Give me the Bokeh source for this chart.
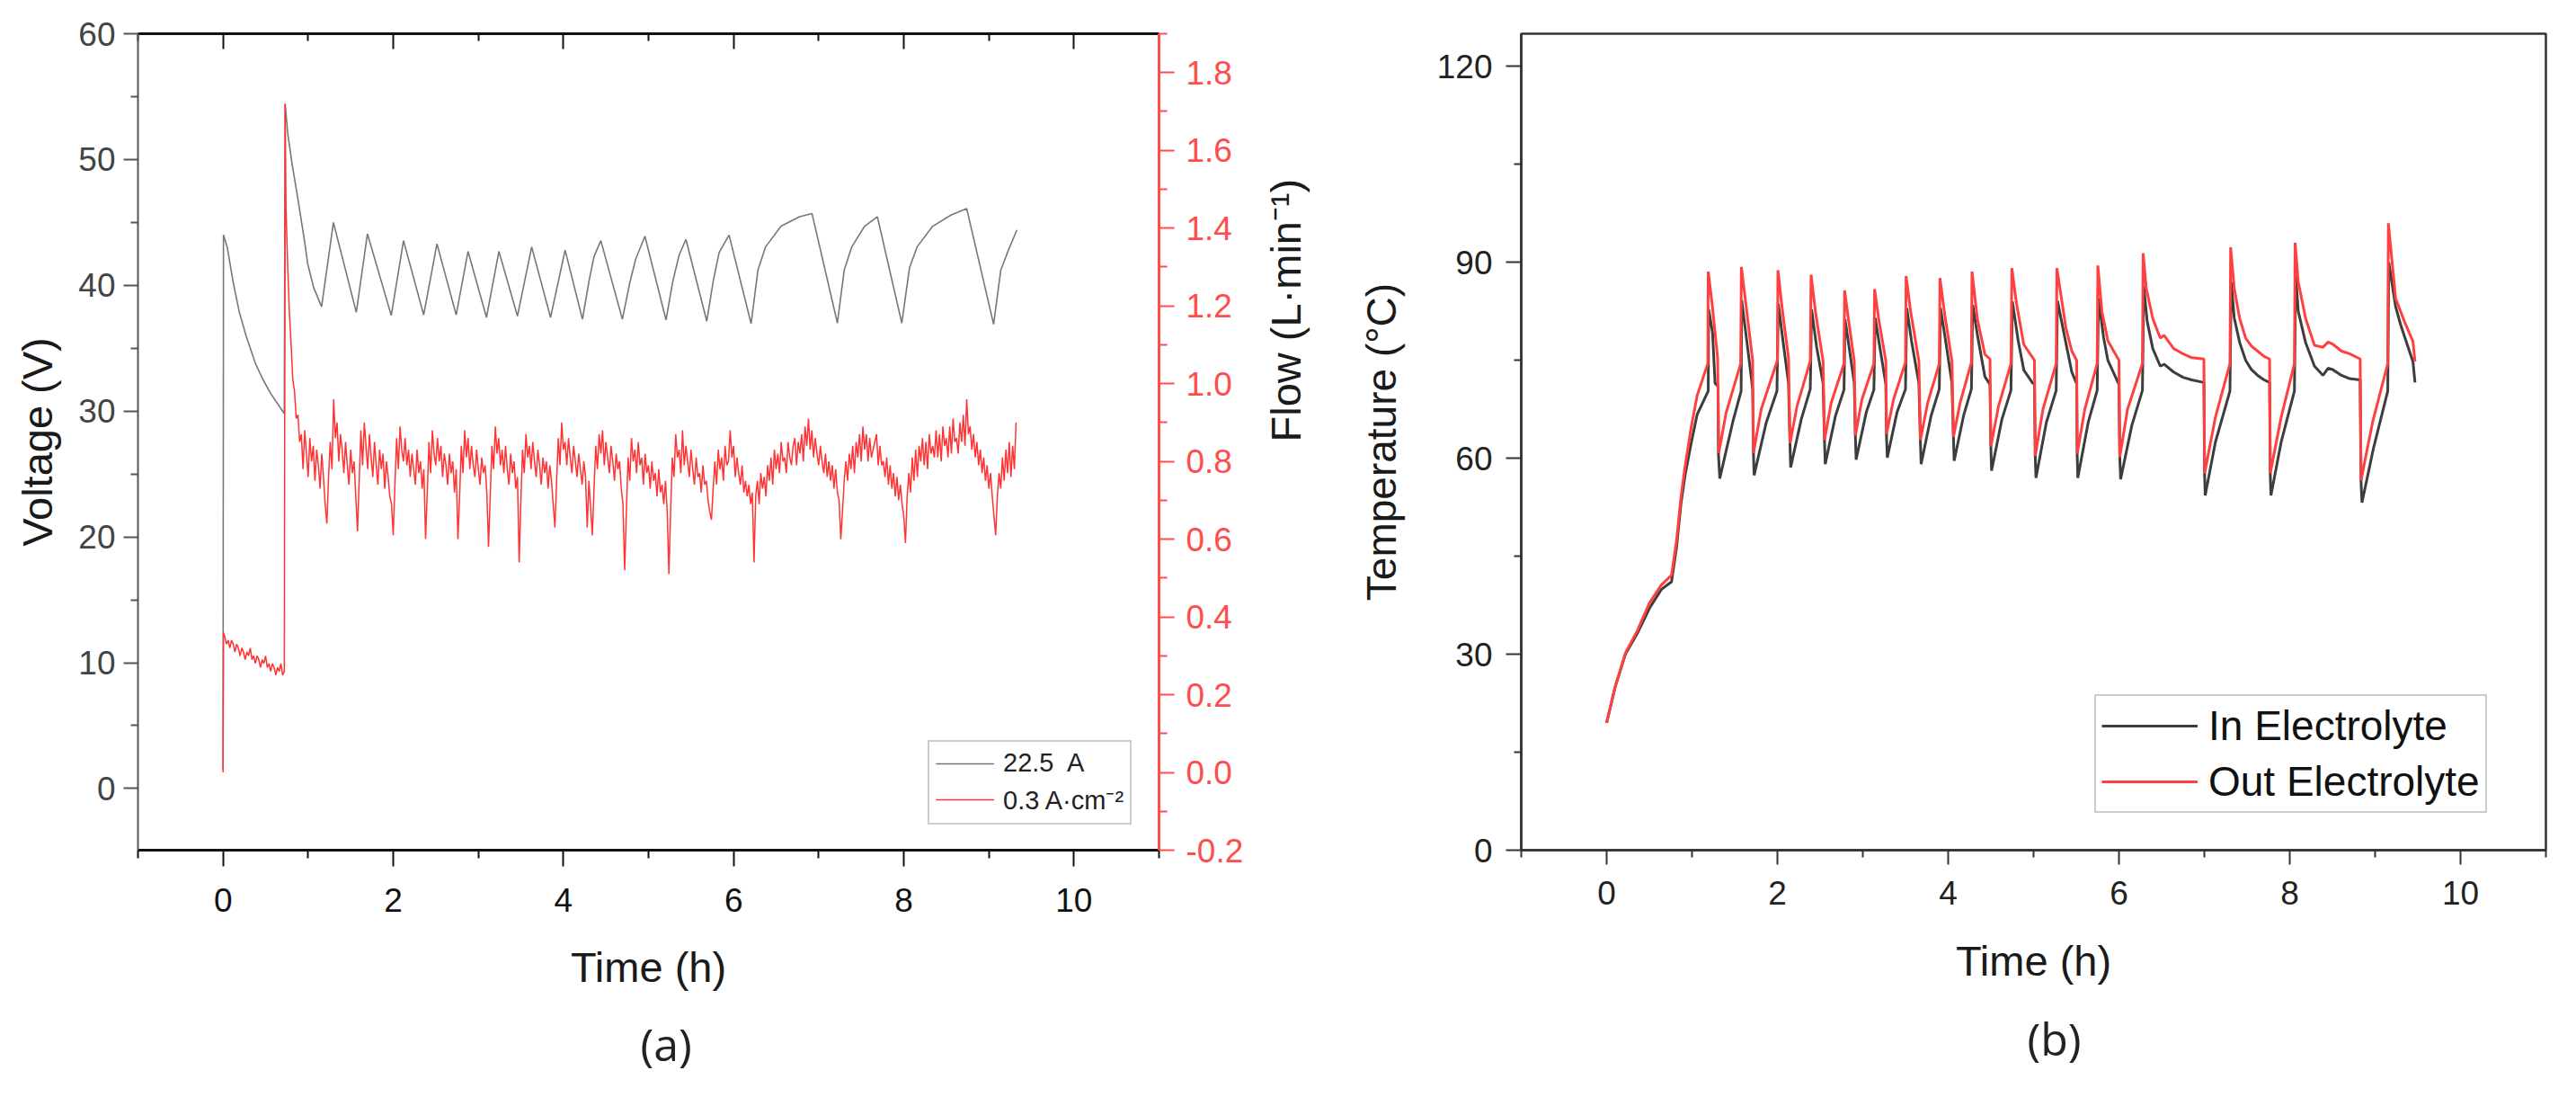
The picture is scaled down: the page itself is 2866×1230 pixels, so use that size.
import math
from bokeh.plotting import figure
from bokeh.models import (Range1d, LinearAxis, FixedTicker, Legend, LegendItem, Title,
                          PrintfTickFormatter)
from bokeh.layouts import row
from bokeh.embed import file_html
from bokeh.resources import INLINE

# ---------------- Panel (a) data ----------------
VOLT_T = [0.0, 0.005, 0.05, 0.12, 0.19, 0.27, 0.38, 0.47, 0.56, 0.72, 0.73, 0.76, 0.81, 0.886,
          0.958, 0.995, 1.066, 1.158, 1.297, 1.566, 1.697, 1.977, 2.121, 2.358, 2.514, 2.740,
          2.879, 3.096, 3.242, 3.460, 3.627, 3.849, 4.020, 4.224, 4.30, 4.36, 4.440, 4.693,
          4.78, 4.85, 4.958, 5.206, 5.285, 5.36, 5.44, 5.685, 5.76, 5.83, 5.947, 6.206, 6.286,
          6.377, 6.558, 6.776, 6.922, 7.22, 7.30, 7.39, 7.54, 7.69, 7.977, 8.068, 8.158, 8.34,
          8.558, 8.74, 9.056, 9.14, 9.23, 9.33]
VOLT_V = [1.5, 44.0, 43.0, 40.2, 37.9, 36.0, 33.8, 32.5, 31.4, 29.8, 54.4, 52.1, 49.7, 46.6,
          43.5, 41.7, 39.8, 38.3, 45.0, 37.85, 44.1, 37.6, 43.55, 37.65, 43.3, 37.65,
          42.7, 37.45, 42.7, 37.55, 43.05, 37.45, 42.8, 37.3, 40.3, 42.3, 43.55, 37.3,
          40.2, 42.1, 43.9, 37.25, 40.3, 42.4, 43.65, 37.15, 40.3, 42.6, 44.0, 36.95, 41.2,
          43.07, 44.7, 45.45, 45.7, 37.0, 41.2, 43.07, 44.7, 45.45, 37.0, 41.4, 43.07, 44.7,
          45.6, 46.1, 36.9, 41.2, 42.8, 44.4]

# flow: start, step up, first segment (sampled every 0.02 h from 0.02 h)
FLOW_START_T = [0.0, 0.005]
FLOW_START_Q = [0.0, 0.36]
FLOW_INIT_T0 = 0.02
FLOW_STEP = 0.02
FLOW_INIT = [0.35, 0.33, 0.34, 0.32, 0.34, 0.33, 0.31, 0.33, 0.32, 0.30, 0.32, 0.31, 0.29, 0.31,
             0.30, 0.32, 0.29, 0.30, 0.28, 0.30, 0.29, 0.27, 0.29, 0.28, 0.30, 0.27, 0.28, 0.26,
             0.28, 0.27, 0.25, 0.27, 0.26, 0.28, 0.25, 0.26]
FLOW_JUMP_T = [0.73]
FLOW_JUMP_Q = [1.72]
FLOW_MAIN_T0 = 0.74
FLOW_MAIN = [
    1.45, 1.30, 1.18, 1.10, 1.01, 0.98, 0.91, 0.92, 0.85, 0.87,
    0.78, 0.88, 0.82, 0.76, 0.86, 0.80, 0.84, 0.75, 0.83, 0.79,
    0.73, 0.82, 0.76, 0.69, 0.64, 0.76, 0.85, 0.78, 0.96, 0.86,
    0.90, 0.80, 0.87, 0.83, 0.77, 0.85, 0.79, 0.74, 0.83, 0.77,
    0.80, 0.71, 0.62, 0.75, 0.88, 0.79, 0.90, 0.84, 0.78, 0.87,
    0.81, 0.76, 0.85, 0.79, 0.74, 0.83, 0.78, 0.82, 0.73, 0.80,
    0.76, 0.71, 0.69, 0.61, 0.74, 0.86, 0.78, 0.89, 0.83, 0.80,
    0.86, 0.79, 0.83, 0.76, 0.82, 0.78, 0.74, 0.83, 0.77, 0.80,
    0.73, 0.78, 0.60, 0.72, 0.85, 0.77, 0.88, 0.82, 0.79, 0.86,
    0.80, 0.84, 0.76, 0.82, 0.79, 0.74, 0.82, 0.77, 0.80, 0.72,
    0.78, 0.60, 0.71, 0.84, 0.77, 0.88, 0.81, 0.86, 0.78, 0.84,
    0.79, 0.76, 0.83, 0.78, 0.74, 0.81, 0.77, 0.79, 0.72, 0.58,
    0.71, 0.84, 0.78, 0.89, 0.82, 0.86, 0.79, 0.83, 0.77, 0.84,
    0.78, 0.74, 0.82, 0.77, 0.80, 0.73, 0.76, 0.54, 0.70, 0.83,
    0.77, 0.87, 0.81, 0.84, 0.78, 0.85, 0.80, 0.76, 0.83, 0.79,
    0.74, 0.81, 0.77, 0.80, 0.73, 0.79, 0.75, 0.69, 0.63, 0.75,
    0.86, 0.79, 0.90, 0.83, 0.85, 0.79, 0.86, 0.81, 0.77, 0.84,
    0.80, 0.76, 0.82, 0.78, 0.74, 0.80, 0.76, 0.63, 0.75, 0.68,
    0.61, 0.73, 0.84, 0.78, 0.87, 0.82, 0.88, 0.79, 0.85, 0.81,
    0.77, 0.84, 0.80, 0.75, 0.82, 0.78, 0.80, 0.73, 0.69, 0.52,
    0.67, 0.81, 0.75, 0.86, 0.80, 0.83, 0.77, 0.85, 0.79, 0.81,
    0.74, 0.82, 0.77, 0.79, 0.73, 0.80, 0.75, 0.77, 0.71, 0.78,
    0.72, 0.74, 0.69, 0.75, 0.67, 0.51, 0.67, 0.81, 0.76, 0.87,
    0.81, 0.83, 0.77, 0.88, 0.79, 0.84, 0.80, 0.76, 0.83, 0.78,
    0.74, 0.81, 0.76, 0.77, 0.72, 0.79, 0.74, 0.75, 0.70, 0.67,
    0.65, 0.73, 0.80, 0.74, 0.83, 0.78, 0.81, 0.75, 0.84, 0.79,
    0.80, 0.88, 0.81, 0.84, 0.76, 0.81, 0.77, 0.74, 0.79, 0.72,
    0.75, 0.71, 0.74, 0.69, 0.72, 0.54, 0.71, 0.75, 0.69, 0.77,
    0.73, 0.76, 0.71, 0.79, 0.75, 0.81, 0.74, 0.83, 0.78, 0.82,
    0.77, 0.85, 0.80, 0.81, 0.77, 0.85, 0.81, 0.79, 0.84, 0.86,
    0.79, 0.85, 0.82, 0.87, 0.80, 0.89, 0.84, 0.91, 0.83, 0.88,
    0.81, 0.86, 0.82, 0.79, 0.84, 0.80, 0.77, 0.82, 0.76, 0.80,
    0.75, 0.79, 0.73, 0.78, 0.72, 0.70, 0.60, 0.67, 0.75, 0.80,
    0.75, 0.82, 0.78, 0.84, 0.77, 0.85, 0.81, 0.87, 0.80, 0.89,
    0.83, 0.87, 0.80, 0.86, 0.81, 0.83, 0.85, 0.87, 0.79, 0.84,
    0.79, 0.80, 0.76, 0.81, 0.74, 0.79, 0.73, 0.77, 0.71, 0.76,
    0.70, 0.74, 0.69, 0.66, 0.59, 0.71, 0.77, 0.72, 0.81, 0.75,
    0.83, 0.76, 0.84, 0.80, 0.86, 0.79, 0.85, 0.78, 0.87, 0.82,
    0.84, 0.81, 0.88, 0.81, 0.87, 0.80, 0.89, 0.84, 0.86, 0.81,
    0.89, 0.82, 0.91, 0.85, 0.86, 0.82, 0.90, 0.85, 0.92, 0.84,
    0.96, 0.87, 0.89, 0.83, 0.87, 0.81, 0.85, 0.79, 0.83, 0.77,
    0.81, 0.75, 0.79, 0.73, 0.77, 0.71, 0.66, 0.61, 0.71, 0.77,
    0.73, 0.81, 0.75, 0.83, 0.77, 0.85, 0.76, 0.84, 0.78, 0.90,
]

X_TICKS = [0, 2, 4, 6, 8, 10]
X_MINOR = [-1, 1, 3, 5, 7, 9, 11]
V_TICKS = [0, 10, 20, 30, 40, 50, 60]
V_MINOR = [-5, 5, 15, 25, 35, 45, 55]
F_TICKS = [-0.2, 0.0, 0.2, 0.4, 0.6, 0.8, 1.0, 1.2, 1.4, 1.6, 1.8]
F_MINOR = [-0.1, 0.1, 0.3, 0.5, 0.7, 0.9, 1.1, 1.3, 1.5, 1.7, 1.9]

# ---------------- Panel (b) data ----------------
OUT_T = [0.00, 0.10, 0.22, 0.36, 0.50, 0.64, 0.76, 0.82, 0.87, 0.92, 0.99, 1.06, 1.185, 1.19,
         1.235, 1.30, 1.313, 1.40, 1.57, 1.578, 1.657, 1.71, 1.72, 1.81, 2.00, 2.006, 2.06,
         2.13, 2.148, 2.23, 2.385, 2.394, 2.45, 2.535, 2.552, 2.63, 2.78, 2.787, 2.83, 2.90,
         2.914, 2.99, 3.13, 3.138, 3.19, 3.27, 3.278, 3.36, 3.50, 3.507, 3.56, 3.657, 3.675,
         3.76, 3.896, 3.904, 3.96, 4.044, 4.062, 4.14, 4.272, 4.279, 4.342, 4.43, 4.49, 4.50,
         4.59, 4.735, 4.746, 4.80, 4.886, 5.01, 5.02, 5.11, 5.265, 5.273, 5.378, 5.448, 5.505,
         5.511, 5.60, 5.745, 5.753, 5.80, 5.87, 6.00, 6.01, 6.10, 6.275, 6.283, 6.32, 6.396,
         6.484, 6.53, 6.64, 6.75, 6.852, 6.995, 7.003, 7.13, 7.30, 7.308, 7.35, 7.414, 7.484,
         7.55, 7.624, 7.70, 7.764, 7.772, 7.90, 8.055, 8.063, 8.10, 8.186, 8.29, 8.39, 8.45,
         8.50, 8.607, 8.70, 8.825, 8.835, 8.97, 9.148, 9.155, 9.24, 9.344, 9.443, 9.467]
OUT_C = [19.5, 25.0, 30.2, 33.6, 37.8, 40.6, 42.1, 47.5, 54.0, 58.9, 64.7, 69.6, 74.5, 88.6,
         83.7, 75.4, 60.8, 67.0, 74.5, 89.3, 80.8, 75.0, 60.8, 67.5, 75.0, 88.8, 82.5,
         75.4, 62.3, 68.0, 74.9, 88.1, 82.0, 74.9, 62.8, 68.5, 74.5, 85.7, 81.5, 74.9,
         63.5, 69.0, 74.5, 85.9, 81.0, 74.9, 63.7, 69.0, 74.7, 87.9, 82.5, 74.9, 62.8,
         68.5, 74.5, 87.6, 82.0, 74.9, 63.3, 68.5, 74.7, 88.6, 81.3, 75.9, 75.2, 61.8,
         68.0, 74.5, 89.1, 83.7, 77.4, 75.0, 60.4, 67.5, 74.5, 89.1, 80.0, 76.4, 75.0,
         60.7, 67.5, 74.5, 89.5, 82.5, 78.0, 75.0, 60.2, 67.5, 74.5, 91.4, 86.0, 81.4,
         78.4, 78.8, 76.8, 76.0, 75.4, 75.2, 57.7, 66.3, 74.5, 92.3, 86.0, 81.4, 78.4,
         77.2, 76.4, 75.6, 75.2, 57.7, 66.3, 74.5, 93.0, 87.0, 81.4, 77.3, 77.0, 77.8,
         77.5, 76.4, 76.0, 75.2, 56.6, 65.5, 74.5, 96.0, 84.5, 80.9, 77.9, 74.8]

IN_T = [0.00, 0.10, 0.22, 0.36, 0.50, 0.64, 0.76, 0.82, 0.87, 0.92, 0.99, 1.06, 1.19, 1.195,
        1.24, 1.27, 1.305, 1.31, 1.325, 1.48, 1.575, 1.582, 1.66, 1.71, 1.72, 1.727, 1.87,
        1.995, 2.01, 2.07, 2.13, 2.148, 2.155, 2.28, 2.385, 2.40, 2.46, 2.535, 2.552, 2.56,
        2.68, 2.78, 2.792, 2.84, 2.90, 2.914, 2.922, 3.04, 3.13, 3.145, 3.20, 3.27, 3.278,
        3.287, 3.40, 3.50, 3.515, 3.57, 3.657, 3.675, 3.683, 3.80, 3.896, 3.91, 3.97, 4.044,
        4.062, 4.07, 4.18, 4.272, 4.287, 4.342, 4.43, 4.49, 4.50, 4.508, 4.63, 4.735, 4.752,
        4.82, 4.886, 4.99, 5.01, 5.02, 5.028, 5.15, 5.265, 5.28, 5.378, 5.448, 5.505, 5.511,
        5.518, 5.64, 5.745, 5.76, 5.82, 5.87, 6.00, 6.01, 6.02, 6.15, 6.275, 6.29, 6.33,
        6.396, 6.484, 6.53, 6.64, 6.75, 6.852, 6.995, 7.003, 7.01, 7.13, 7.30, 7.315, 7.35,
        7.414, 7.484, 7.55, 7.624, 7.70, 7.764, 7.772, 7.78, 7.90, 8.055, 8.07, 8.10, 8.186,
        8.29, 8.39, 8.45, 8.50, 8.607, 8.70, 8.825, 8.835, 8.846, 8.98, 9.148, 9.16, 9.24,
        9.30, 9.443, 9.467]
IN_C = [19.5, 25.0, 30.0, 33.2, 37.0, 39.9, 41.1, 46.5, 53.0, 57.5, 62.3, 66.7, 70.3, 82.8,
        79.3, 71.5, 71.0, 60.5, 56.9, 65.7, 70.3, 84.2, 76.0, 70.6, 60.5, 57.4, 65.5,
        70.3, 83.7, 77.5, 71.5, 62.0, 58.6, 66.0, 70.6, 82.8, 77.0, 71.5, 62.5, 59.1,
        66.5, 70.5, 81.3, 77.0, 71.5, 63.0, 59.8, 67.0, 70.5, 81.5, 77.0, 71.3, 63.3,
        60.1, 67.0, 70.6, 83.0, 78.0, 71.5, 62.5, 59.1, 66.5, 70.6, 83.0, 78.0, 71.5,
        63.0, 59.6, 66.5, 70.6, 83.5, 78.9, 72.5, 71.3, 61.5, 58.1, 66.0, 70.4, 84.0,
        78.0, 73.5, 71.5, 71.4, 60.2, 57.0, 65.5, 70.4, 84.1, 77.7, 73.2, 71.4, 60.5,
        57.0, 65.5, 70.4, 84.5, 78.5, 75.0, 71.3, 60.0, 56.8, 65.0, 70.4, 86.4, 81.0,
        76.8, 74.1, 74.4, 73.2, 72.4, 72.0, 71.6, 57.5, 54.3, 62.5, 70.3, 87.0, 81.5,
        77.7, 75.0, 73.6, 72.7, 72.0, 71.6, 57.5, 54.3, 62.5, 70.3, 88.0, 82.5, 77.7,
        74.1, 72.7, 73.8, 73.6, 72.7, 72.2, 72.0, 56.4, 53.2, 61.5, 70.3, 90.0, 83.2,
        80.4, 74.8, 71.6]

T_TICKS = [0, 30, 60, 90, 120]
T_MINOR = [15, 45, 75, 105]

# ---------------- assemble flow series ----------------
flow_t = list(FLOW_START_T) + [FLOW_INIT_T0 + FLOW_STEP * i for i in range(len(FLOW_INIT))] \
    + list(FLOW_JUMP_T) + [FLOW_MAIN_T0 + FLOW_STEP * i for i in range(len(FLOW_MAIN))]
flow_q = list(FLOW_START_Q) + list(FLOW_INIT) + list(FLOW_JUMP_Q) + list(FLOW_MAIN)

SANS = "Liberation Sans"
H = 1214

# ---------------- Panel (a) ----------------
pa = figure(width=1490, height=H, x_range=Range1d(-1, 11), y_range=Range1d(-4.9, 60),
            output_backend="svg", toolbar_location=None,
            x_axis_location=None, y_axis_location=None,
            min_border_left=153, min_border_right=201, min_border_top=37, min_border_bottom=H - 949)
pa.outline_line_color = None
pa.background_fill_color = "white"
pa.border_fill_color = "white"
pa.grid.grid_line_color = None
pa.extra_y_ranges = {"flow": Range1d(-0.2, 1.9)}


def style_axis(ax, color, width, label_color, tick_out, minor_out, size, standoff):
    ax.axis_line_color = color
    ax.axis_line_width = width
    ax.major_tick_line_color = color
    ax.minor_tick_line_color = color
    ax.major_tick_line_width = 2
    ax.minor_tick_line_width = 2
    ax.major_tick_out = tick_out
    ax.major_tick_in = 0
    ax.minor_tick_out = minor_out
    ax.minor_tick_in = 0
    ax.major_label_text_font = SANS
    ax.major_label_text_font_size = size
    ax.major_label_text_color = label_color
    ax.major_label_standoff = standoff
    ax.axis_label_text_font = SANS
    ax.axis_label_text_font_style = "normal"
    ax.axis_label_text_color = "#1a1a1a"


ya = LinearAxis(ticker=FixedTicker(ticks=V_TICKS, minor_ticks=V_MINOR), axis_label="Voltage (V)")
style_axis(ya, "#555555", 2, "#444444", 16, 8, "37px", 9)
ya.axis_label_text_font_size = "47px"
ya.axis_label_standoff = 16
pa.add_layout(ya, "left")

yf = LinearAxis(y_range_name="flow", ticker=FixedTicker(ticks=F_TICKS, minor_ticks=F_MINOR),
                formatter=PrintfTickFormatter(format="%.1f"), axis_label="Flow (L·min⁻¹)")
style_axis(yf, "#ff4d4d", 3, "#ff4d4d", 17, 9, "37px", 13)
yf.axis_label_text_font_size = "47px"
yf.axis_label_standoff = 44
yf.axis_label_orientation = math.pi / 2
pa.add_layout(yf, "right")

xa = LinearAxis(ticker=FixedTicker(ticks=X_TICKS, minor_ticks=X_MINOR), axis_label="Time (h)")
style_axis(xa, "#111111", 3, "#111111", 18, 9, "37px", 24)
xa.axis_label_text_font_size = "47px"
xa.axis_label_standoff = 32
pa.add_layout(xa, "below")

ta = LinearAxis(ticker=FixedTicker(ticks=X_TICKS, minor_ticks=X_MINOR))
style_axis(ta, "#111111", 3, "#111111", 0, 0, "1px", 0)
ta.major_tick_in = 17
ta.minor_tick_in = 8
ta.major_label_text_alpha = 0
pa.add_layout(ta, "above")

rv = pa.line(VOLT_T, VOLT_V, line_color="#777777", line_width=1.6)
rf = pa.line(flow_t, flow_q, line_color="#ff3333", line_width=1.5, y_range_name="flow")

lga = Legend(items=[LegendItem(label="22.5\u00a0 A", renderers=[rv]),
                    LegendItem(label="0.3 A·cm⁻²", renderers=[rf])],
             location=(879, 28))
lga.label_text_font = SANS
lga.label_text_font_size = "29px"
lga.label_text_color = "#222222"
lga.glyph_width = 65
lga.glyph_height = 26
lga.label_height = 26
lga.label_standoff = 10
lga.spacing = 4
lga.padding = 7
lga.margin = 0
lga.border_line_color = "#999999"
lga.border_line_width = 2
lga.background_fill_alpha = 1
pa.add_layout(lga)

pa.add_layout(Title(text="(a)", align="left", text_font="Open Sans", text_font_size="50px",
                    text_font_style="normal", text_color="#222222", offset=559, standoff=40),
              "below")

# ---------------- Panel (b) ----------------
pb = figure(width=1360, height=H, x_range=Range1d(-1, 11), y_range=Range1d(0, 125),
            output_backend="svg", toolbar_location=None,
            x_axis_location=None, y_axis_location=None,
            min_border_left=202, min_border_right=18, min_border_top=27, min_border_bottom=H - 945)
pb.outline_line_color = "#333333"
pb.outline_line_width = 2.5
pb.background_fill_color = "white"
pb.border_fill_color = "white"
pb.grid.grid_line_color = None

yb = LinearAxis(ticker=FixedTicker(ticks=T_TICKS, minor_ticks=T_MINOR), axis_label="Temperature (°C)")
style_axis(yb, "#333333", 2.5, "#222222", 17, 8, "37px", 15)
yb.axis_label_text_font_size = "46px"
yb.axis_label_standoff = 33
pb.add_layout(yb, "left")

xb = LinearAxis(ticker=FixedTicker(ticks=X_TICKS, minor_ticks=X_MINOR), axis_label="Time (h)")
style_axis(xb, "#333333", 2.5, "#222222", 16, 8, "37px", 18)
xb.axis_label_text_font_size = "47px"
xb.axis_label_standoff = 33
pb.add_layout(xb, "below")

rin = pb.line(IN_T, IN_C, line_color="#3d3d3d", line_width=3)
rout = pb.line(OUT_T, OUT_C, line_color="#ff4040", line_width=3)

lgb = Legend(items=[LegendItem(label="In Electrolyte", renderers=[rin]),
                    LegendItem(label="Out Electrolyte", renderers=[rout])],
             location=(638, 41))
lgb.label_text_font = SANS
lgb.label_text_font_size = "46px"
lgb.label_text_color = "#111111"
lgb.glyph_width = 107
lgb.glyph_height = 50
lgb.label_height = 50
lgb.label_standoff = 12
lgb.spacing = 8
lgb.padding = 6
lgb.margin = 0
lgb.border_line_color = "#999999"
lgb.border_line_width = 2
lgb.background_fill_alpha = 1
pb.add_layout(lgb)

pb.add_layout(Title(text="(b)", align="left", text_font="Open Sans", text_font_size="50px",
                    text_font_style="normal", text_color="#222222", offset=563, standoff=42),
              "below")

layout = row(pa, pb)
open("out.html", "w").write(file_html(layout, INLINE))
